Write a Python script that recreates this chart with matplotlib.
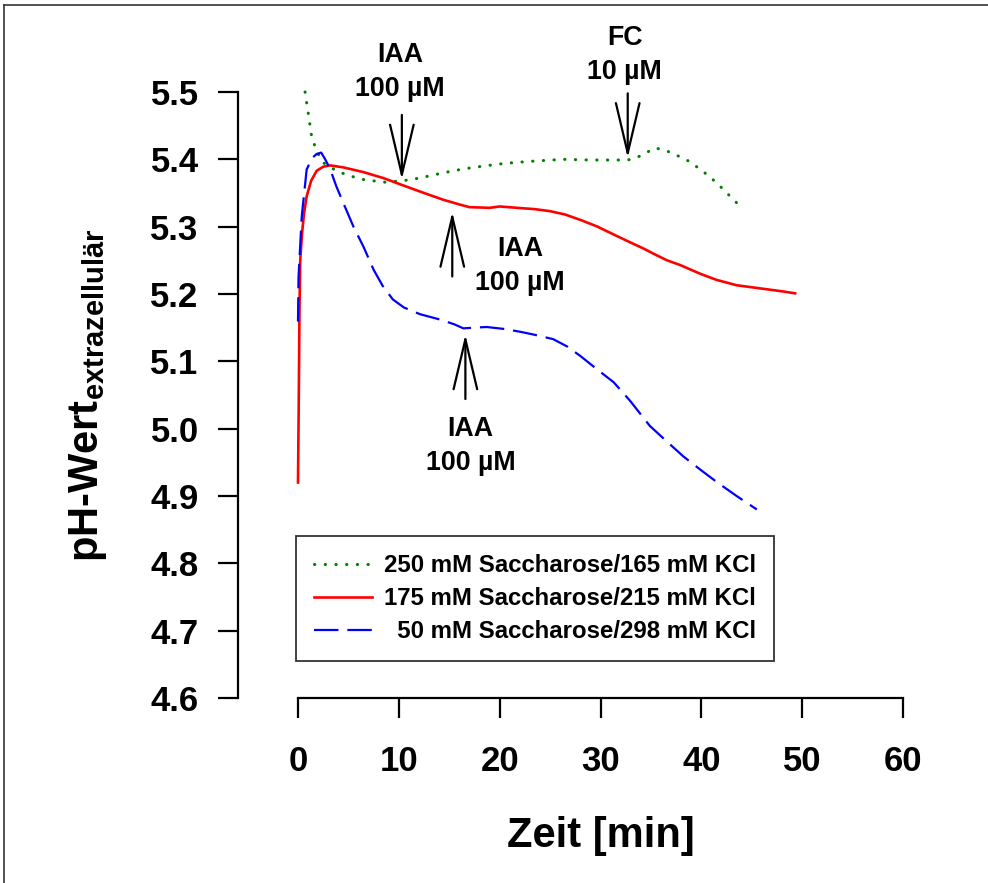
import numpy as np
import matplotlib
matplotlib.use('Agg')
from matplotlib import pyplot as plt
from matplotlib.lines import Line2D

plt.rcParams['font.family'] = ['Liberation Sans', 'DejaVu Sans']
plt.rcParams['font.weight'] = 'bold'
plt.rcParams['mathtext.fontset'] = 'custom'
plt.rcParams['mathtext.bf'] = 'Liberation Sans:bold'
plt.rcParams['mathtext.rm'] = 'Liberation Sans:bold'

# 250 mM Saccharose / 165 mM KCl
t_250 = [0.7, 1.0, 1.35, 1.85, 2.5, 3.8, 5.0, 6.5, 8.5, 10.3, 12.0, 14.4, 16.5, 18.4,
         20.5, 23.0, 26.3, 29.0, 31.0, 32.7, 33.5, 34.2, 35.4, 36.5, 37.7, 38.8,
         40.0, 41.0, 42.0, 43.0, 44.0]
ph_250 = [5.500, 5.470, 5.434, 5.412, 5.395, 5.383, 5.376, 5.370, 5.366, 5.368, 5.372,
          5.380, 5.386, 5.390, 5.394, 5.397, 5.400, 5.399, 5.399, 5.399, 5.402, 5.407,
          5.417, 5.413, 5.405, 5.397, 5.384, 5.372, 5.358, 5.343, 5.328]

# 175 mM Saccharose / 215 mM KCl
t_175 = [0.0, 0.08, 0.15, 0.22, 0.4, 0.6, 0.86, 1.3, 1.85, 2.5, 3.2, 4.5, 6.5, 8.5,
         10.3, 12.5, 14.4, 16.0, 17.0, 19.0, 20.0, 21.7, 23.5, 25.0, 26.5, 28.2, 29.7,
         31.5, 32.9, 34.2, 35.5, 36.6, 37.9, 39.9, 41.5, 43.5, 45.0, 46.5, 48.0, 49.3]
ph_175 = [4.920, 5.050, 5.180, 5.250, 5.290, 5.320, 5.345, 5.368, 5.383, 5.389, 5.391,
          5.388, 5.381, 5.372, 5.362, 5.350, 5.340, 5.333, 5.329, 5.328, 5.330, 5.328,
          5.326, 5.323, 5.318, 5.309, 5.300, 5.287, 5.277, 5.268, 5.258, 5.250, 5.243,
          5.230, 5.221, 5.213, 5.210, 5.207, 5.204, 5.201]

# 50 mM Saccharose / 298 mM KCl
t_50 = [0.0, 0.05, 0.37, 0.86, 1.4, 1.85, 2.3, 2.7, 3.2, 3.8, 4.5, 5.5, 6.5, 7.5, 8.4,
        9.4, 10.5, 12.1, 14.1, 15.5, 16.4, 17.5, 18.7, 20.5, 22.0, 23.3, 25.3, 26.7,
        28.0, 29.5, 31.3, 32.9, 34.9, 36.5, 38.2, 40.0, 41.6, 43.5, 45.5]
ph_50 = [5.159, 5.224, 5.315, 5.385, 5.402, 5.408, 5.410, 5.400, 5.385, 5.360, 5.335,
         5.300, 5.270, 5.236, 5.212, 5.192, 5.180, 5.170, 5.162, 5.155, 5.149, 5.150,
         5.151, 5.148, 5.144, 5.140, 5.133, 5.122, 5.108, 5.090, 5.069, 5.042, 5.004,
         4.982, 4.959, 4.938, 4.920, 4.900, 4.880]

labels = ['250 mM Saccharose/165 mM KCl',
          '175 mM Saccharose/215 mM KCl',
          '  50 mM Saccharose/298 mM KCl']

# (label, x, arrow tail y, arrow tip y, text x, text y)
marks = [('IAA\n100 µM', 10.3, 5.466, 5.370, 10.1, 5.530),
         ('FC\n10 µM', 32.7, 5.498, 5.402, 32.4, 5.555),
         ('IAA\n100 µM', 15.3, 5.226, 5.322, 22.0, 5.242),
         ('IAA\n100 µM', 16.6, 5.044, 5.140, 17.1, 4.975)]

fig = plt.figure(figsize=(9.88, 8.83), dpi=100)
ax = fig.add_axes([298/988, 1-698/883, (903-298)/988, (698-92)/883])

ax.plot(t_250, ph_250, color='#008000', lw=2.2, linestyle=(0, (0.1, 3.4)),
        dash_capstyle='round', label=labels[0], clip_on=False)
ax.plot(t_175, ph_175, color='#ff0000', lw=1.9, label=labels[1], clip_on=False)
ax.plot(t_50, ph_50, color='#0000ff', lw=1.6, linestyle=(0, (11, 4)),
        label=labels[2], clip_on=False)

for txt, xa, y0, y1, xt, yt in marks:
    ax.annotate('', xy=(xa, y1), xytext=(xa, y0),
                arrowprops=dict(arrowstyle='->,head_length=3.6,head_width=0.85',
                                lw=1.6, color='black', mutation_scale=10,
                                shrinkA=0, shrinkB=0),
                annotation_clip=False)
    ax.text(xt, yt, txt, ha='center', va='center', fontsize=19.3,
            fontweight='bold', linespacing=1.4, clip_on=False)

ax.set_xlim(0, 60)
ax.set_ylim(4.6, 5.5)
ax.set_xticks(np.arange(0, 61, 10))
ax.set_yticks(np.round(np.arange(4.6, 5.51, 0.1), 1))
ax.set_yticklabels(['%.1f' % v for v in np.arange(4.6, 5.51, 0.1)])

for s in ['top', 'right']:
    ax.spines[s].set_visible(False)
ax.spines['left'].set_position(('outward', 43))
ax.spines['left'].set_linewidth(1.6)
ax.spines['bottom'].set_linewidth(1.6)
ax.tick_params(axis='both', direction='out', length=14.5, width=1.6, labelsize=25)
ax.tick_params(axis='y', pad=14)
ax.tick_params(axis='x', pad=19.5)

ax.set_xlabel('Zeit [min]', fontsize=30, fontweight='bold', labelpad=27)
ax.set_ylabel(r'pH-Wert$_{\mathbf{extrazellulär}}$', fontsize=30,
              fontweight='bold', labelpad=30)

leg = ax.legend(loc='upper left', bbox_to_anchor=(296/988, 1-536/883),
                bbox_transform=fig.transFigure, borderaxespad=0, fontsize=17.3,
                frameon=True, fancybox=False, edgecolor='black', handlelength=2.4,
                handletextpad=0.5, labelspacing=0.42, borderpad=0.75)
leg.get_frame().set_linewidth(1.3)
for t in leg.get_texts():
    t.set_fontweight('bold')

# page border
fig.add_artist(Line2D([4/988, 1], [1-5/883, 1-5/883], transform=fig.transFigure,
                      color='#333333', lw=1.2))
fig.add_artist(Line2D([4/988, 4/988], [0, 1-5/883], transform=fig.transFigure,
                      color='#333333', lw=1.2))

fig.savefig('out.png', dpi=100)
